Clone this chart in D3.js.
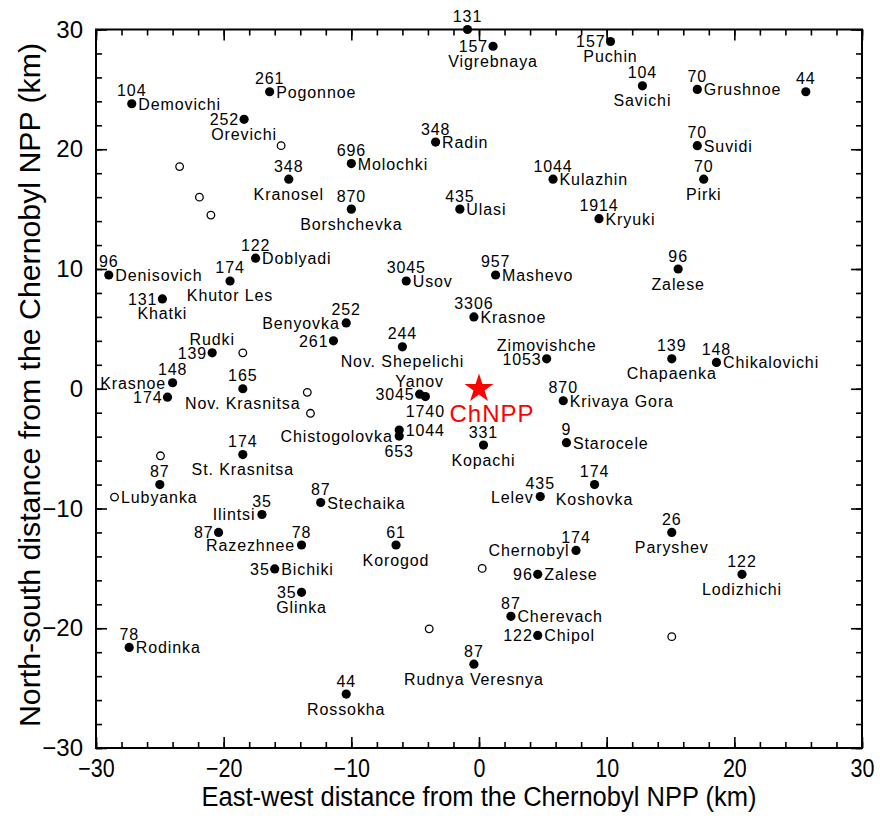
<!DOCTYPE html>
<html><head><meta charset="utf-8">
<script src="https://cdn.jsdelivr.net/npm/d3@7"></script>
<style>
body{margin:0;background:#fff;}
svg{display:block;font-family:"Liberation Sans",Arial,sans-serif;}
</style></head>
<body>
<svg id="chart" width="880" height="826"></svg>
<script>
// ---- data ----
const names = ["", "Vigrebnaya", "Puchin", "Demovichi", "Pogonnoe", "Orevichi", "Savichi", "Grushnoe", "", "Suvidi",
  "Radin", "Molochki", "Kranosel", "Kulazhin", "Pirki", "Borshchevka", "Ulasi", "Kryuki", "Doblyadi", "Denisovich",
  "Khutor Les", "Usov", "Mashevo", "Zalese", "Khatki", "Benyovka", "Krasnoe", "", "Nov. Shepelichi", "Rudki",
  "Zimovishche", "Chapaenka", "Chikalovichi", "Krasnoe", "Nov. Krasnitsa", "", "Yanov", "", "Krivaya Gora", "",
  "Chistogolovka", "Kopachi", "Starocele", "St. Krasnitsa", "", "Koshovka", "Lelev", "Stechaika", "Ilintsi", "",
  "Paryshev", "Razezhnee", "Korogod", "Chernobyl", "Bichiki", "Zalese", "Lodizhichi", "Glinka", "Cherevach", "Chipol",
  "Rodinka", "Rudnya Veresnya", "Rossokha"];
const values = [131, 157, 157, 104, 261, 252, 104, 70, 44, 70,
  348, 696, 348, 1044, 70, 870, 435, 1914, 122, 96,
  174, 3045, 957, 96, 131, 252, 3306, 261, 244, 139,
  1053, 139, 148, 148, 165, 174, 3045, 1740, 870, 1044,
  653, 331, 9, 174, 87, 174, 435, 87, 35, 87,
  26, 78, 61, 174, 35, 96, 122, 35, 87, 122,
  78, 87, 44];
const xs = [-0.9, 1.1, 10.3, -27.2, -16.4, -18.4, 12.8, 17.1, 25.6, 17.1,
  -3.4, -10.0, -14.9, 5.8, 17.6, -10.0, -1.5, 9.4, -17.5, -29.0,
  -19.5, -5.7, 1.3, 15.6, -24.8, -10.4, -0.4, -11.4, -6.0, -20.9,
  5.3, 15.1, 18.6, -24.0, -18.5, -24.4, -4.65, -4.2, 6.6, -6.25,
  -6.25, 0.35, 6.85, -18.5, -25.0, 9.05, 4.8, -12.4, -17.0, -20.4,
  15.1, -13.9, -6.5, 7.6, -16.0, 4.6, 20.6, -13.9, 2.5, 4.6,
  -27.4, -0.4, -10.4];
const ys = [30.0, 28.6, 29.0, 23.8, 24.8, 22.5, 25.3, 25.0, 24.8, 20.3,
  20.6, 18.8, 17.5, 17.5, 17.5, 15.0, 15.0, 14.2, 10.9, 9.5,
  9.0, 9.0, 9.5, 10.0, 7.5, 5.5, 6.0, 4.0, 3.5, 3.0,
  2.5, 2.5, 2.2, 0.5, 0.0, -0.7, -0.45, -0.65, -1.0, -3.45,
  -3.95, -4.7, -4.5, -5.5, -8.0, -8.0, -9.0, -9.5, -10.5, -12.0,
  -12.0, -13.05, -13.05, -13.5, -15.05, -15.5, -15.5, -17.0, -19.0, -20.6,
  -21.6, -23.0, -25.5];
// open circles (sites without values)
const openNames = ["", "", "", "", "", "", "", "", "Lubyanka", "", "", ""];
const openX = [-15.5, -23.45, -21.9, -21.0, -18.5, -13.45, -13.2, -24.95, -28.55, 0.25, -3.9, 15.1];
const openY = [20.3, 18.55, 16.0, 14.5, 3.0, -0.3, -2.05, -5.6, -9.05, -15.0, -20.05, -20.7];
const npp = {name: "ChNPP", x: 0, y: 0};
const tickMajor = [-30, -20, -10, 0, 10, 20, 30];
const tickMinor = d3.range(-30, 31, 2);
const xTitle = "East-west distance from the Chernobyl NPP (km)";
const yTitle = "North-south distance from the Chernobyl NPP (km)";

// ---- layout (label placement: t=above, b=below, l=left, r=right) ----
const valuePos = ["t","l","l","t","t","l","t","t","t","t",
  "t","t","t","t","t","t","t","t","t","t",
  "t","t","t","t","l","t","t","l","t","l",
  "l","t","t","t","t","l","l","b","t","r",
  "b","t","t","t","t","t","t","t","t","l",
  "t","t","t","t","l","l","t","l","t","l",
  "t","t","t"];
const namePos = ["", "b","b","r","r","b","b","r","","r",
  "r","r","b","r","b","b","r","r","r","r",
  "b","r","r","b","b","l","r","","b","t",
  "t","b","r","l","b","","t","","r","",
  "l","b","r","b","","b","l","r","l","",
  "b","l","b","l","r","r","b","b","r","r",
  "r","b","b"];

const W = 880, H = 826;
const svg = d3.select("#chart");
const x = d3.scaleLinear().domain([-30, 30]).range([96, 862]);
const y = d3.scaleLinear().domain([-30, 30]).range([748, 29.5]);

// axes: minor + major, ticks inward
function styleAxis(g){ g.select(".domain").remove(); g.selectAll("line").attr("stroke","#000").attr("stroke-width",1.6); }
svg.append("g").attr("transform",`translate(0,${y(-30)})`)
  .call(d3.axisBottom(x).tickValues(tickMinor).tickSizeInner(-6).tickSizeOuter(0).tickFormat(""))
  .call(styleAxis);
svg.append("g").attr("transform",`translate(0,${y(30)})`)
  .call(d3.axisTop(x).tickValues(tickMinor).tickSizeInner(-6).tickSizeOuter(0).tickFormat(""))
  .call(styleAxis);
svg.append("g").attr("transform",`translate(${x(-30)},0)`)
  .call(d3.axisLeft(y).tickValues(tickMinor).tickSizeInner(-6).tickSizeOuter(0).tickFormat(""))
  .call(styleAxis);
svg.append("g").attr("transform",`translate(${x(30)},0)`)
  .call(d3.axisRight(y).tickValues(tickMinor).tickSizeInner(-6).tickSizeOuter(0).tickFormat(""))
  .call(styleAxis);

const gxb = svg.append("g").attr("transform",`translate(0,${y(-30)})`)
  .call(d3.axisBottom(x).tickValues(tickMajor).tickSizeInner(-11).tickSizeOuter(0).tickPadding(11).tickFormat(d3.format("d")))
  .call(styleAxis);
gxb.selectAll("text").attr("font-size",25).attr("fill","#000").attr("font-family","Liberation Sans, Arial, sans-serif")
  .each(function(){ const w = this.getComputedTextLength(); d3.select(this).attr("textLength", w*0.86).attr("lengthAdjust","spacingAndGlyphs"); });
svg.append("g").attr("transform",`translate(0,${y(30)})`)
  .call(d3.axisTop(x).tickValues(tickMajor).tickSizeInner(-11).tickSizeOuter(0).tickFormat(""))
  .call(styleAxis);
const gyl = svg.append("g").attr("transform",`translate(${x(-30)},0)`)
  .call(d3.axisLeft(y).tickValues(tickMajor).tickSizeInner(-11).tickSizeOuter(0).tickPadding(13).tickFormat(d3.format("d")))
  .call(styleAxis);
gyl.selectAll("text").attr("font-size",24).attr("fill","#000").attr("font-family","Liberation Sans, Arial, sans-serif");
svg.append("g").attr("transform",`translate(${x(30)},0)`)
  .call(d3.axisRight(y).tickValues(tickMajor).tickSizeInner(-11).tickSizeOuter(0).tickFormat(""))
  .call(styleAxis);

// frame
svg.append("rect").attr("x",x(-30)).attr("y",y(30)).attr("width",x(30)-x(-30)).attr("height",y(-30)-y(30))
  .attr("fill","none").attr("stroke","#000").attr("stroke-width",2);

// axis titles
svg.append("text").attr("x",(x(-30)+x(30))/2).attr("y",806).attr("text-anchor","middle")
  .attr("font-size",27).attr("textLength",555).attr("lengthAdjust","spacingAndGlyphs").text(xTitle);
svg.append("text").attr("transform",`translate(40,385) rotate(-90)`).attr("text-anchor","middle")
  .attr("font-size",29).attr("textLength",684).attr("lengthAdjust","spacingAndGlyphs").text(yTitle);

// points
const pts = values.map((v,i)=>({v, name:names[i], x:xs[i], y:ys[i], vp:valuePos[i], np:namePos[i]}));
const opens = openX.map((d,i)=>({x:openX[i], y:openY[i], name:openNames[i]}));

svg.append("g").selectAll("circle").data(opens).join("circle")
  .attr("cx",d=>x(d.x)).attr("cy",d=>y(d.y)).attr("r",3.8)
  .attr("fill","#fff").attr("stroke","#000").attr("stroke-width",1.3);
svg.append("g").selectAll("circle").data(pts).join("circle")
  .attr("cx",d=>x(d.x)).attr("cy",d=>y(d.y)).attr("r",4.6).attr("fill","#000");

const LS = 16;
function place(sel, pos, sideDx){
  sel.attr("x", d=>{ const cx = x(d.x), p = pos(d);
      return p==="r" ? cx+6.5 : p==="l" ? cx-(sideDx||6) : cx; })
    .attr("y", d=>{ const cy = y(d.y), p = pos(d);
      return p==="t" ? cy-7.5 : p==="b" ? cy+20.5 : cy+6; })
    .attr("text-anchor", d=>{ const p = pos(d); return p==="r" ? "start" : p==="l" ? "end" : "middle"; });
}
const lbl = svg.append("g").attr("font-size",LS).attr("letter-spacing","0.9px").attr("fill","#000");
place(lbl.selectAll("text.v").data(pts).join("text").attr("class","v").text(d=>d.v), d=>d.vp, 5);
place(lbl.selectAll("text.n").data(pts.filter(d=>d.name)).join("text").attr("class","n").text(d=>d.name), d=>d.np, 6.5);
place(lbl.selectAll("text.o").data(opens.filter(d=>d.name)).join("text").attr("class","o").text(d=>d.name), d=>"r");

// ChNPP star
svg.append("path").attr("d", d3.symbol(d3.symbolStar).size(260)())
  .attr("transform",`translate(${x(npp.x)},${y(npp.y)})`).attr("fill","#ff0000");
svg.append("text").attr("x",x(npp.x)+13).attr("y",y(npp.y)+33).attr("text-anchor","middle")
  .attr("font-size",24).attr("letter-spacing","1px").attr("fill","#ff0000").text(npp.name);
</script>
</body></html>
